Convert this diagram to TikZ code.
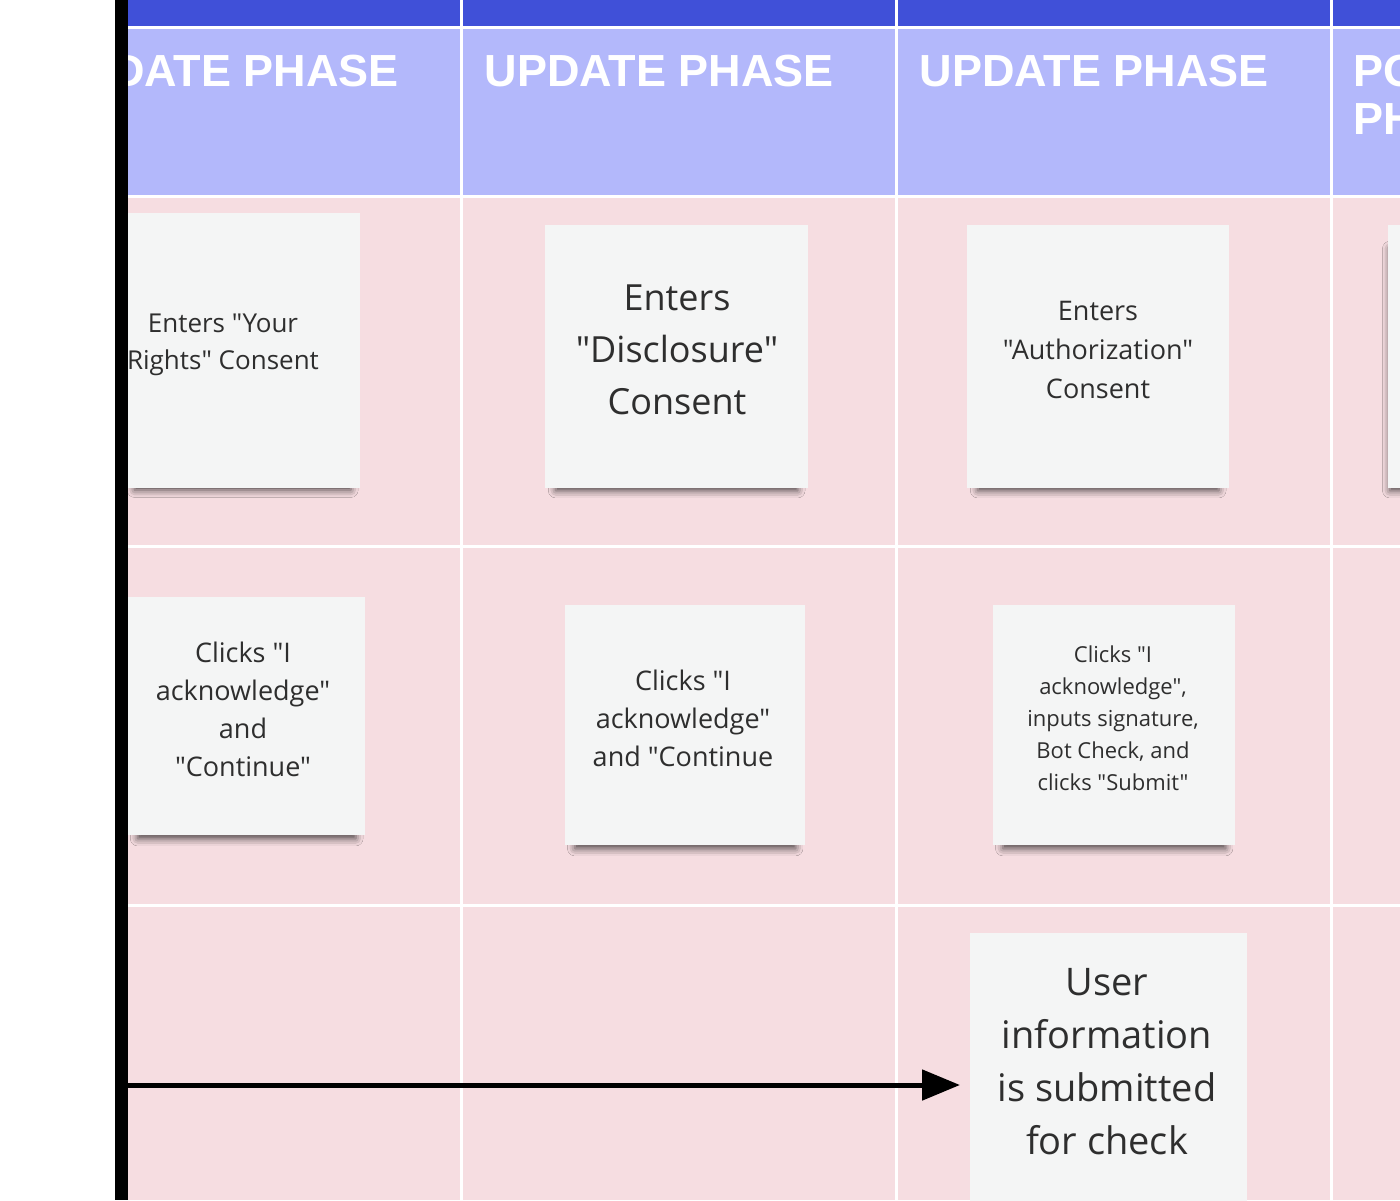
\documentclass[tikz,border=0pt]{standalone}
\usepackage{fontspec}
\defaultfontfeatures{}
\defaultfontfeatures[\rmfamily,\sffamily]{}
\setmainfont{Open Sans}[Ligatures=ResetAll]
\newfontfamily\hdr{Liberation Sans}
\usetikzlibrary{shadows.blur,arrows.meta}
\definecolor{topblue}{HTML}{4050D8}
\definecolor{lav}{HTML}{B3B8FB}
\definecolor{pinkbg}{HTML}{F6DDE1}
\definecolor{notebg}{HTML}{F4F5F5}
\definecolor{notetxt}{HTML}{2E2E2E}
\newcommand{\qq}{\symbol{34}}
\begin{document}
\begin{tikzpicture}[x=1pt,y=-1pt,
  note/.style={fill=notebg,draw=none,inner sep=0,anchor=north west,
    blur shadow={shadow xshift=0pt,shadow yshift=-14pt,shadow opacity=70,shadow blur radius=8pt,shadow scale=0.92}},
  ntext/.style={align=center,text=notetxt},
  hd/.style={anchor=north west,text=white,font=\hdr\bfseries\fontsize{45}{52}\selectfont,align=left}]
\useasboundingbox (0,0) rectangle (1400,1200);
\fill[white] (0,0) rectangle (1400,1200);
\begin{scope}
\clip (128,0) rectangle (1400,1200);
\fill[pinkbg] (128,0) rectangle (1400,1200);
\fill[lav] (128,27) rectangle (1400,195);
\fill[topblue] (128,0) rectangle (1400,27);
\foreach \x in {461,896,1331} \draw[white,line width=3] (\x,0) -- (\x,1200);
\foreach \y in {27,196,546,905} \draw[white,line width=3] (128,\y) -- (1400,\y);
\node[hd] (h1) at (46,52) {UPDATE PHASE};
\node[hd] (h2) at (481,52) {UPDATE PHASE};
\node[hd] (h3) at (916,52) {UPDATE PHASE};
\node[hd] (h4) at (1350,52) {POST\\[-4pt]PHASE};
% row 1
\node[note,minimum width=235,minimum height=275] (n11) at (125,213) {};
\node[ntext,font=\fontsize{26}{37}\selectfont] (t11) at (223,345) {Enters \qq Your\\Rights\qq{} Consent};
\node[note,minimum width=263,minimum height=263] (n12) at (545,225) {};
\node[ntext,font=\fontsize{36}{52}\selectfont] (t12) at (677,350) {Enters\\\qq Disclosure\qq\\Consent};
\node[note,minimum width=262,minimum height=263] (n13) at (967,225) {};
\node[ntext,font=\fontsize{27}{39}\selectfont] (t13) at (1098,350) {Enters\\\qq Authorization\qq\\Consent};
\node[note,minimum width=40,minimum height=263] (n14) at (1388,225) {};
% row 2
\node[note,minimum width=237,minimum height=238] (n21) at (128,597) {};
\node[ntext,font=\fontsize{27}{38}\selectfont] (t21) at (243,709) {Clicks \qq I\\acknowledge\qq\\and\\\qq Continue\qq};
\node[note,minimum width=240,minimum height=240] (n22) at (565,605) {};
\node[ntext,font=\fontsize{27}{38}\selectfont] (t22) at (683,718) {Clicks \qq I\\acknowledge\qq\\and \qq Continue};
\node[note,minimum width=242,minimum height=240] (n23) at (993,605) {};
\node[ntext,font=\fontsize{22}{32}\selectfont] (t23) at (1113,718) {Clicks \qq I\\acknowledge\qq,\\inputs signature,\\Bot Check, and\\clicks \qq Submit\qq};
% row 3
\node[note,minimum width=277,minimum height=290] (n33) at (970,933) {};
\node[ntext,font=\fontsize{38}{53}\selectfont] (t33) at (1107,1062) {User\\information\\is submitted\\for check};
\coordinate (a0) at (120,1085);
\coordinate (a1) at (960,1085);
\draw[line width=5,-{Triangle[length=38,width=30]}] (a0) -- (a1);
\end{scope}
\fill[black] (115,0) rectangle (128,1200);
\end{tikzpicture}
\end{document}
